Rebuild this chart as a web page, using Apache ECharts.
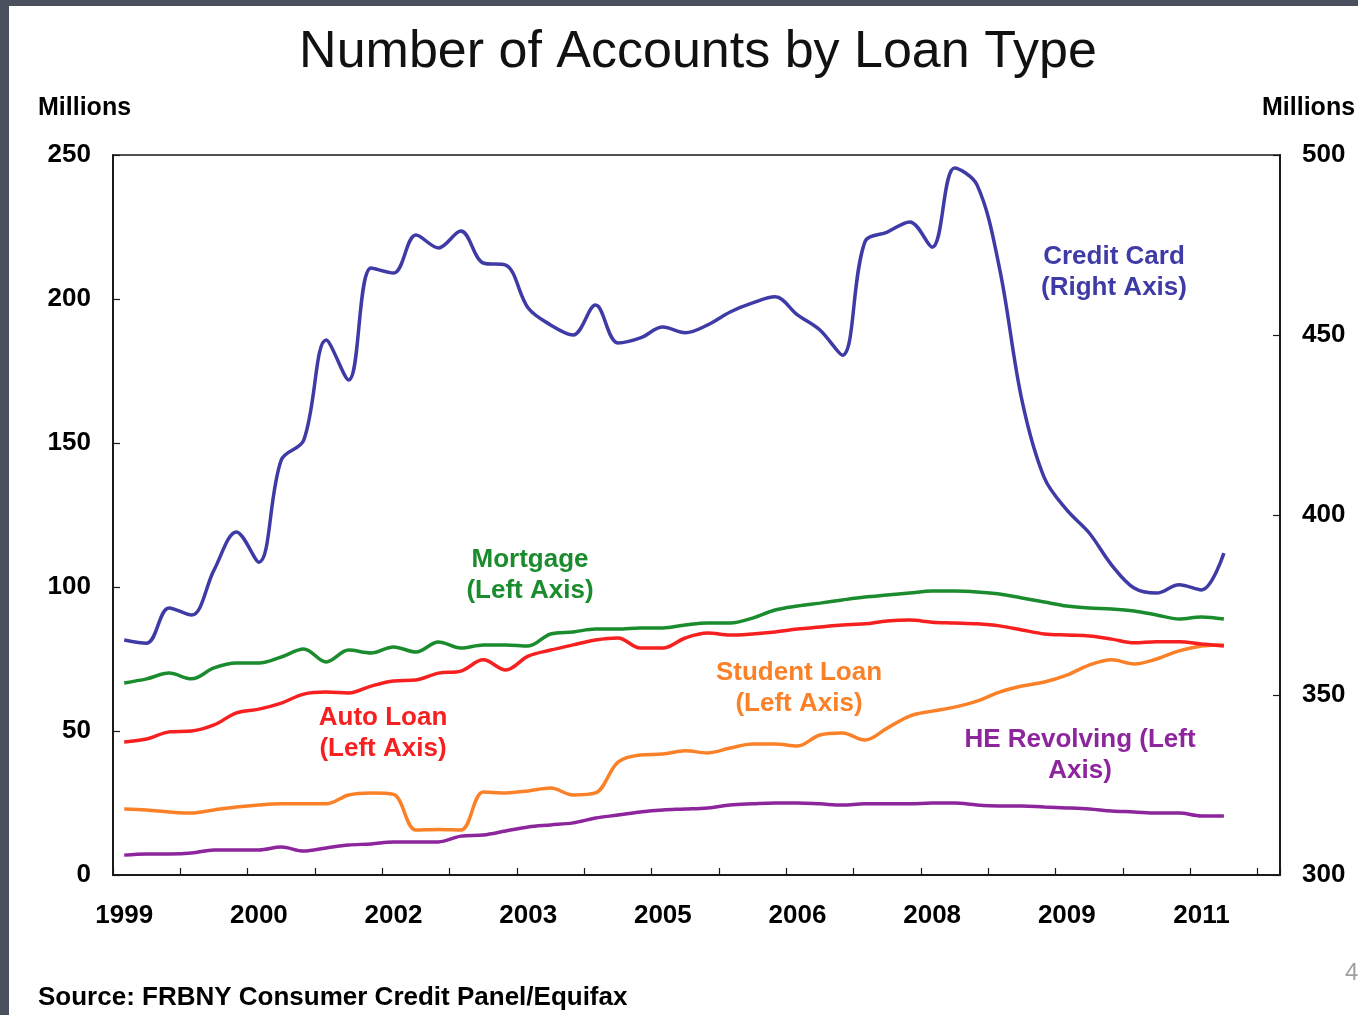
<!DOCTYPE html>
<html>
<head>
<meta charset="utf-8">
<title>Number of Accounts by Loan Type</title>
<script src="https://cdn.jsdelivr.net/npm/echarts@6/dist/echarts.min.js"></script>
<style>
  html, body { margin: 0; padding: 0; background: #ffffff; }
  #chart { width: 1358px; height: 1015px; }
</style>
</head>
<body>
<div id="chart"></div>
<script>
// Quarterly categories, 1999Q1 - 2011Q4 (data runs through 2011Q2)
const quarters = [
  '1999Q1','1999Q2','1999Q3','1999Q4','2000Q1','2000Q2','2000Q3','2000Q4',
  '2001Q1','2001Q2','2001Q3','2001Q4','2002Q1','2002Q2','2002Q3','2002Q4',
  '2003Q1','2003Q2','2003Q3','2003Q4','2004Q1','2004Q2','2004Q3','2004Q4',
  '2005Q1','2005Q2','2005Q3','2005Q4','2006Q1','2006Q2','2006Q3','2006Q4',
  '2007Q1','2007Q2','2007Q3','2007Q4','2008Q1','2008Q2','2008Q3','2008Q4',
  '2009Q1','2009Q2','2009Q3','2009Q4','2010Q1','2010Q2','2010Q3','2010Q4',
  '2011Q1','2011Q2','2011Q3','2011Q4'
];

// Millions of accounts
const creditCard = [
  365.3, 364.4, 374.2, 372.2, 384.7, 395.3, 386.9, 415.3, 420.8, 448.6,
  437.5, 468.6, 467.2, 477.8, 474.2, 478.9, 470.0, 469.4, 457.5, 452.8,
  450.0, 458.3, 447.8, 449.2, 452.2, 450.6, 452.8, 456.4, 458.9, 460.6,
  455.6, 451.4, 444.4, 475.8, 478.6, 481.4, 474.4, 496.4, 491.7, 468.6,
  431.9, 410.3, 401.4, 395.0, 386.1, 379.7, 378.3, 380.6, 379.2, 389.4
];
const mortgage = [
  66.7, 68.1, 70.1, 68.1, 71.9, 73.6, 73.6, 75.7, 78.5, 74.0,
  78.1, 77.1, 79.2, 77.4, 80.9, 78.8, 79.9, 79.9, 79.5, 83.7,
  84.4, 85.4, 85.4, 85.8, 85.8, 86.8, 87.5, 87.5, 89.2, 92.0,
  93.4, 94.4, 95.5, 96.5, 97.2, 97.9, 98.6, 98.6, 98.3, 97.6,
  96.2, 94.8, 93.4, 92.7, 92.4, 91.7, 90.3, 88.9, 89.6, 88.9
];
const autoLoan = [
  46.2, 47.2, 49.7, 50.0, 52.1, 56.3, 57.6, 59.7, 62.8, 63.5,
  63.2, 65.6, 67.4, 67.7, 70.1, 70.8, 74.7, 71.2, 76.0, 78.1,
  79.9, 81.6, 82.3, 78.8, 78.8, 82.3, 84.0, 83.3, 83.7, 84.4,
  85.4, 86.1, 86.8, 87.2, 88.2, 88.5, 87.8, 87.5, 87.2, 86.5,
  85.1, 83.7, 83.3, 83.0, 81.9, 80.6, 81.0, 81.0, 80.2, 79.5
];
const studentLoan = [
  22.9, 22.6, 21.9, 21.5, 22.6, 23.6, 24.3, 24.7, 24.7, 24.7,
  27.8, 28.5, 28.0, 15.6, 15.8, 15.6, 28.8, 28.5, 29.2, 30.2,
  27.8, 28.5, 39.2, 41.7, 42.0, 43.1, 42.4, 44.1, 45.5, 45.5,
  44.8, 48.6, 49.3, 46.9, 51.0, 55.2, 56.9, 58.3, 60.4, 63.5,
  65.6, 67.0, 69.4, 72.9, 74.7, 73.3, 75.0, 77.8, 79.5, 79.9
];
const heRevolving = [
  6.9, 7.3, 7.3, 7.6, 8.7, 8.7, 8.7, 9.7, 8.3, 9.4,
  10.4, 10.8, 11.5, 11.5, 11.5, 13.5, 13.9, 15.3, 16.7, 17.4,
  18.1, 19.8, 20.8, 21.9, 22.6, 22.9, 23.3, 24.3, 24.7, 25.0,
  25.0, 24.7, 24.3, 24.7, 24.7, 24.7, 25.0, 25.0, 24.3, 24.0,
  24.0, 23.6, 23.3, 22.9, 22.2, 21.9, 21.5, 21.5, 20.5, 20.5
];

const FONT = '"Liberation Sans", Arial, Helvetica, sans-serif';
const AXIS_COLOR = '#1a1a1a';
const COLORS = {
  card: '#3f3ba6',
  mortgage: '#1b8c2e',
  auto: '#f5201f',
  student: '#fb8128',
  he: '#8d259d'
};

const chart = echarts.init(document.getElementById('chart'));

function lineSeries(name, data, color, yAxisIndex) {
  return {
    name: name,
    type: 'line',
    data: data,
    yAxisIndex: yAxisIndex,
    smooth: 0.35,
    symbol: 'none',
    lineStyle: { color: color, width: 3.5 },
    itemStyle: { color: color },
    z: 3
  };
}

// centred two-line annotation; (x, y) is the top-centre of the text block
function note(x, y, text, color) {
  return {
    type: 'text', x: x, y: y,
    style: {
      text: text, fill: color, font: 'bold 26px ' + FONT,
      textAlign: 'center', textVerticalAlign: 'top', lineHeight: 31
    }
  };
}

chart.setOption({
  backgroundColor: '#ffffff',
  animation: false,
  grid: {
    left: 113, right: 78, top: 155, bottom: 140,
    show: true, borderColor: AXIS_COLOR, borderWidth: 1.5,
    backgroundColor: 'transparent'
  },
  xAxis: {
    type: 'category',
    data: quarters,
    boundaryGap: true,
    axisLine: { show: true, lineStyle: { color: AXIS_COLOR, width: 2 } },
    axisTick: { show: true, inside: true, interval: 2, length: 7, lineStyle: { color: AXIS_COLOR, width: 1.2 } },
    axisLabel: {
      interval: 5, margin: 28, color: '#000',
      fontFamily: FONT, fontWeight: 'bold', fontSize: 26,
      formatter: v => v.slice(0, 4)
    },
    splitLine: { show: false }
  },
  yAxis: [
    {
      type: 'value', min: 0, max: 250, interval: 50, position: 'left',
      axisLine: { show: true, lineStyle: { color: AXIS_COLOR, width: 2 } },
      axisTick: { show: true, inside: true, length: 7, lineStyle: { color: AXIS_COLOR, width: 1.2 } },
      axisLabel: { margin: 22, color: '#000', fontFamily: FONT, fontWeight: 'bold', fontSize: 26 },
      splitLine: { show: false }
    },
    {
      type: 'value', min: 300, max: 500, interval: 50, position: 'right',
      axisLine: { show: true, lineStyle: { color: AXIS_COLOR, width: 2 } },
      axisTick: { show: true, inside: true, length: 7, lineStyle: { color: AXIS_COLOR, width: 1.2 } },
      axisLabel: { margin: 22, color: '#000', fontFamily: FONT, fontWeight: 'bold', fontSize: 26 },
      splitLine: { show: false }
    }
  ],
  series: [
    lineSeries('HE Revolving', heRevolving, COLORS.he, 0),
    lineSeries('Student Loan', studentLoan, COLORS.student, 0),
    lineSeries('Auto Loan', autoLoan, COLORS.auto, 0),
    lineSeries('Mortgage', mortgage, COLORS.mortgage, 0),
    lineSeries('Credit Card', creditCard, COLORS.card, 1)
  ],
  graphic: [
    // slide frame strips
    { type: 'rect', x: 0, y: 0, shape: { width: 9, height: 1015 }, style: { fill: '#4a505e' }, z: 100 },
    { type: 'rect', x: 0, y: 0, shape: { width: 1358, height: 6 }, style: { fill: '#4a505e' }, z: 100 },
    {
      type: 'text', x: 698, y: 53,
      style: { text: 'Number of Accounts by Loan Type', fill: '#111', font: '52px ' + FONT, textAlign: 'center', textVerticalAlign: 'middle' }
    },
    { type: 'text', x: 38, y: 108, style: { text: 'Millions', fill: '#000', font: 'bold 25px ' + FONT, textVerticalAlign: 'middle' } },
    { type: 'text', x: 1262, y: 108, style: { text: 'Millions', fill: '#000', font: 'bold 25px ' + FONT, textVerticalAlign: 'middle' } },
    { type: 'text', x: 38, y: 998, style: { text: 'Source: FRBNY Consumer Credit Panel/Equifax', fill: '#000', font: 'bold 26px ' + FONT, textVerticalAlign: 'middle' } },
    { type: 'text', x: 1345, y: 973, style: { text: '4', fill: '#a0a0a0', font: '24px ' + FONT, textVerticalAlign: 'middle' } },
    note(1114, 241, 'Credit Card\n(Right Axis)', COLORS.card),
    note(530, 544, 'Mortgage\n(Left Axis)', COLORS.mortgage),
    note(383, 702, 'Auto Loan\n(Left Axis)', COLORS.auto),
    note(799, 657, 'Student Loan\n(Left Axis)', COLORS.student),
    note(1080, 724, 'HE Revolving (Left\nAxis)', COLORS.he)
  ]
});
</script>
</body>
</html>
